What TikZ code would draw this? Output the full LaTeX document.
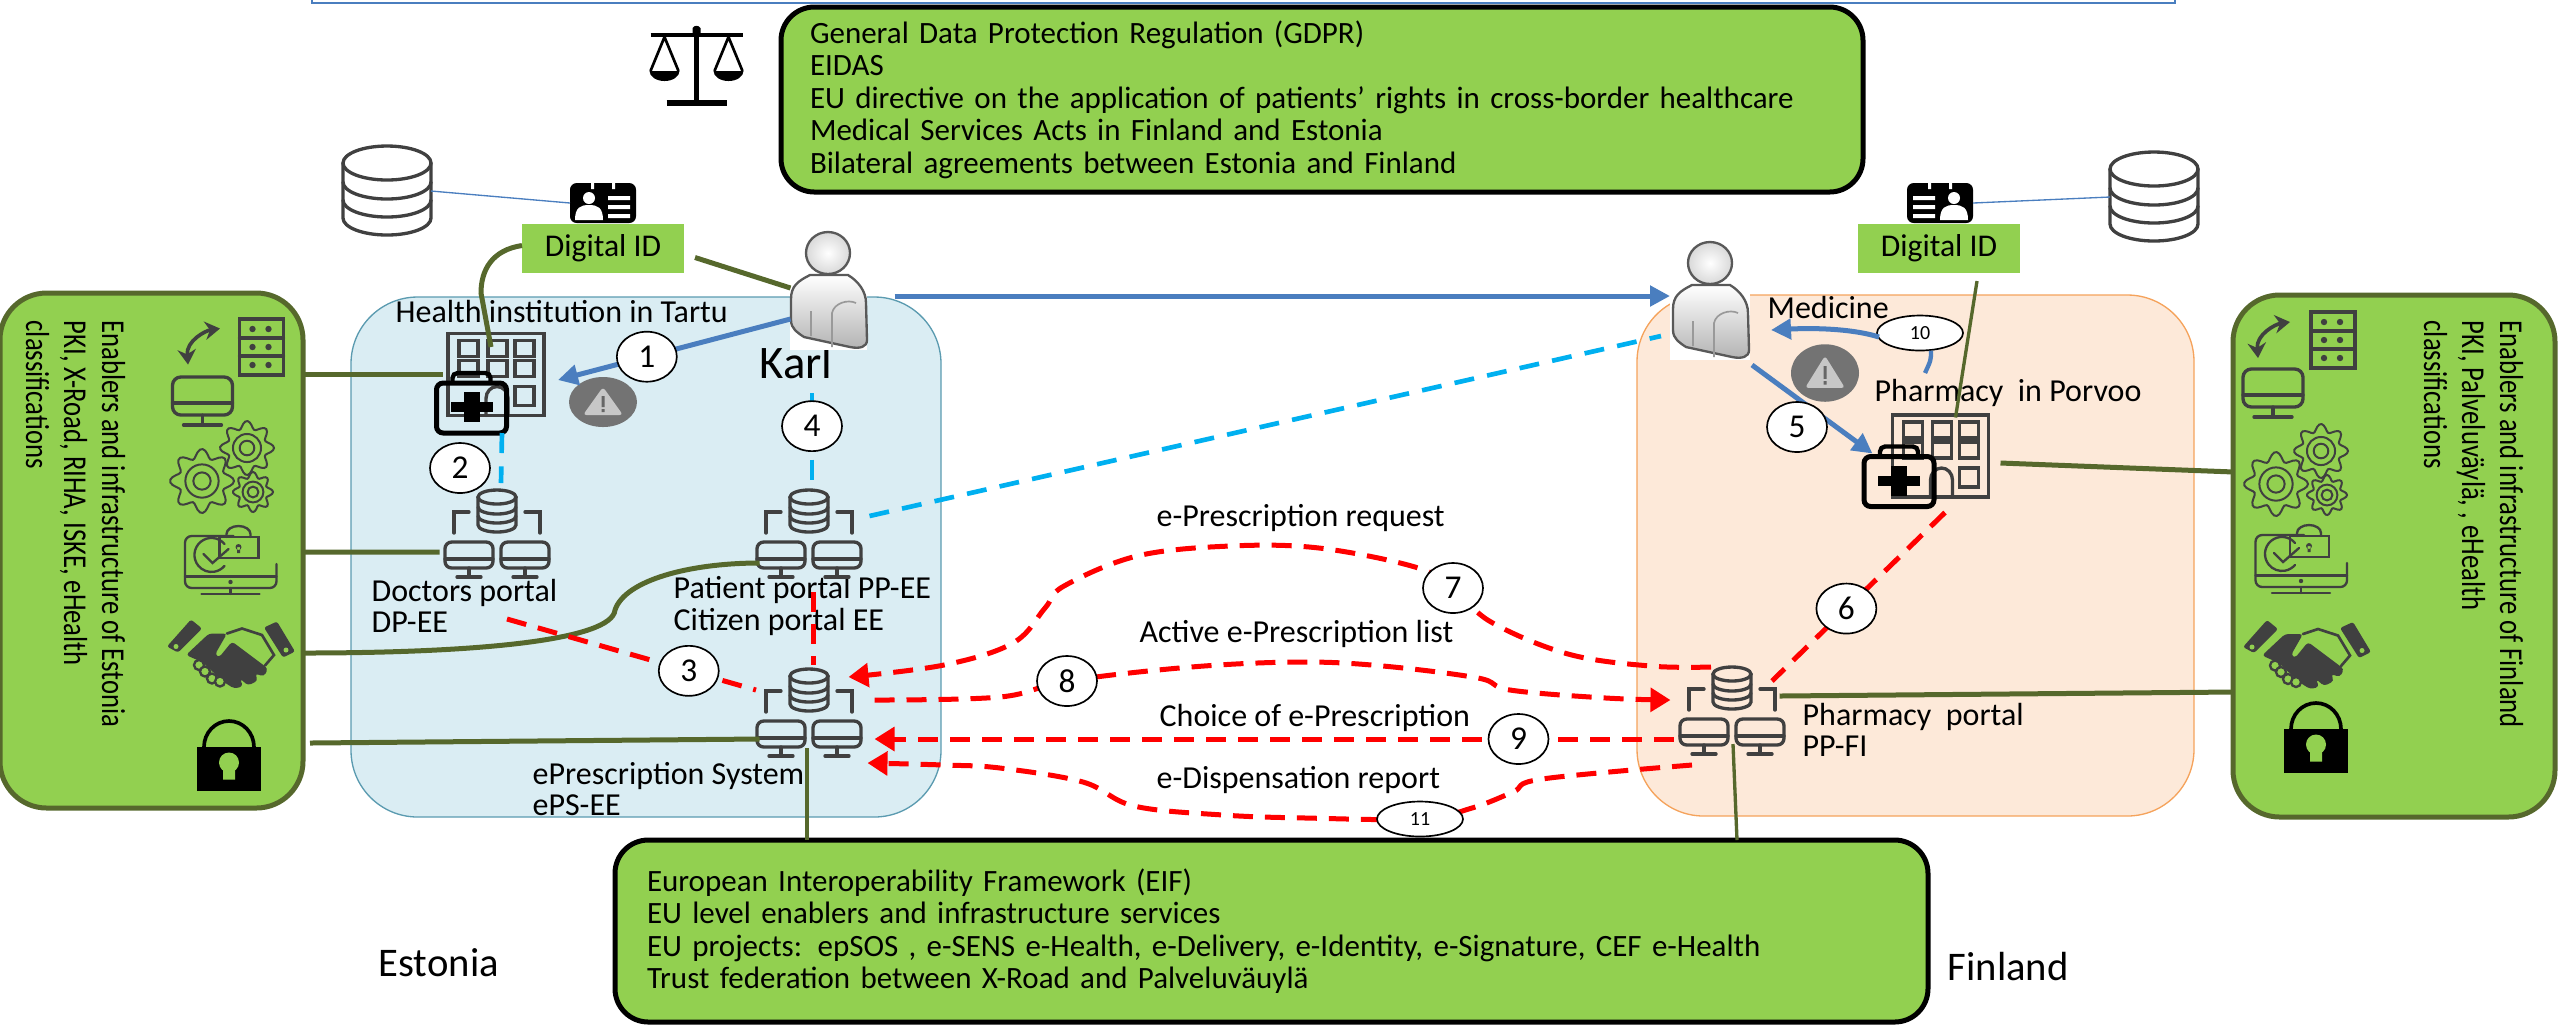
\documentclass[tikz,border=0pt]{standalone}
\usepackage{fontspec}
\setmainfont{Carlito}
\newfontfamily\sidefont[FakeStretch=0.8]{Carlito}
\usetikzlibrary{arrows.meta}
\usetikzlibrary{shapes}
\usetikzlibrary{calc}
\definecolor{boxgreen}{HTML}{92D050}
\definecolor{linkolive}{HTML}{56682C}
\definecolor{flowblue}{HTML}{4A7EBF}
\definecolor{flowcyan}{HTML}{00B0F0}
\definecolor{eeregion}{HTML}{DAEDF3}
\definecolor{eeedge}{HTML}{5B9BB0}
\definecolor{firegion}{HTML}{FDE9D9}
\definecolor{fiedge}{HTML}{F5A35C}
\colorlet{iconink}{black!75}
\tikzset{pxp/.style={
  x=0.3pt,
  y=-0.3pt
}}
\tikzset{sized/.style 2 args={
  minimum width=#1*0.3pt,
  minimum height=#2*0.3pt,
  inner sep=0pt,
  outer sep=0pt
}}
\tikzset{iconbox/.style={sized={#1},shape=rectangle}}
\tikzset{regn/.style={draw,thin,rounded corners=20pt,shape=rectangle}}
\tikzset{sideb/.style={draw=linkolive,fill=boxgreen,line width=1.5pt,rounded corners=14pt,shape=rectangle}}
\tikzset{lawb/.style={draw=black,fill=boxgreen,line width=1.5pt,rounded corners=10pt,shape=rectangle,align=left,
  font=\fontsize{9.3}{9.75}\selectfont}}
\tikzset{idb/.style={fill=boxgreen,sized={162}{49},font=\fontsize{9.5}{9.75}\selectfont}}
\tikzset{txt/.style={anchor=west,inner sep=0pt,align=left,font=\fontsize{9.6}{9.4}\selectfont}}
\tikzset{sidetxt/.style={rotate=-90,anchor=north west,inner sep=0pt,align=left,
  font=\sidefont\fontsize{10}{11.4}\selectfont}}
\tikzset{numc/.style={draw=black,solid,line width=0.5pt,fill=white,shape=ellipse,sized={60}{50},font=\fontsize{10}{12}\selectfont}}
\tikzset{numo/.style={draw=black,solid,line width=0.5pt,fill=white,shape=ellipse,sized={86}{35},font=\fontsize{6}{7}\selectfont}}
\tikzset{olink/.style={draw=linkolive,line width=1.5pt}}
\tikzset{othin/.style={draw=linkolive,line width=1pt}}
\tikzset{bluef/.style={draw=flowblue,line width=1.5pt,-{Triangle[length=6pt,width=6pt]}}}
\tikzset{cyanf/.style={draw=flowcyan,line width=1.4pt,dash pattern=on 6pt off 4pt}}
\tikzset{redf/.style={draw=red,line width=1.5pt,dash pattern=on 6pt off 3.6pt}}
\tikzset{redh/.style={redf,-{Triangle[length=6pt,width=7pt]}}}
\tikzset{ink/.style={draw=iconink,line width=1pt,line cap=round}}
\newcommand{\gearring}[3]{
  \draw[ink,line width=0.6pt] plot[smooth cycle,samples=73,domain=0:355]
    ({#1+#3*(0.86+0.14*cos(8*\x))*cos(\x)},{#2+#3*(0.86+0.14*cos(8*\x))*sin(\x)});
  \draw[ink,line width=0.6pt] (#1,#2) circle[radius=#3*0.52] (#1,#2) circle[radius=#3*0.27];
}
\tikzset{
  dbico/.pic={
    \draw[ink] (0,-28) ellipse[x radius=44,y radius=17];
    \draw[ink] (-44,-28) -- (-44,27) arc[start angle=180,end angle=0,x radius=44,y radius=17] -- (44,-28);
    \draw[ink] (-44,-9) arc[start angle=180,end angle=0,x radius=44,y radius=17];
    \draw[ink] (-44,9) arc[start angle=180,end angle=0,x radius=44,y radius=17];
  },
  portalico/.pic={
    \draw[ink] (0,-37) ellipse[x radius=19,y radius=7];
    \draw[ink] (-19,-37) -- (-19,-9) arc[start angle=180,end angle=0,x radius=19,y radius=7] -- (19,-37);
    \draw[ink] (-19,-27) arc[start angle=180,end angle=0,x radius=19,y radius=7];
    \draw[ink] (-19,-18) arc[start angle=180,end angle=0,x radius=19,y radius=7];
    \draw[ink] (-43,-1) -- (-43,-22) -- (-28,-22);
    \draw[ink] (43,-1) -- (43,-22) -- (28,-22);
    \foreach \mx in {-28,28} {
      \draw[ink,rounded corners=2pt] (\mx-24,8) rectangle (\mx+24,34);
      \draw[ink] (\mx-24,25) -- (\mx+24,25) (\mx,34) -- (\mx,43) (\mx-12,43) -- (\mx+12,43);
    }
  },
  bldgico/.pic={
    \draw[ink] (-48,-41) rectangle (48,41);
    \foreach \wx in {-37,-8,19} {
      \draw[ink] (\wx,-34) rectangle (\wx+19,-18);
      \draw[ink] (\wx,-14) rectangle (\wx+19,2);
    }
    \draw[ink] (19,12) rectangle (38,31);
    \draw[ink] (-10,41) -- (-10,24) arc[start angle=180,end angle=360,x radius=11,y radius=12] -- (12,41);
  },
  kitico/.pic={
    \draw[black,line width=1.5pt,rounded corners=2pt] (-35,-20) rectangle (35,30);
    \draw[black,line width=1.3pt,rounded corners=1.5pt] (-19,-20) -- (-19,-30) -- (19,-30) -- (19,-20);
    \fill[black] (-8,-11) rectangle (8,19);
    \fill[black] (-21,-1) rectangle (21,9);
  },
  warnico/.pic={
    \fill[black!55] (0,0) ellipse[x radius=34,y radius=25];
    \fill[black!22,rounded corners=1pt] (0,-15) -- (20,13) -- (-20,13) -- cycle;
    \fill[black!60] (-1.5,-6) rectangle (1.5,5) (-1.5,7) rectangle (1.5,10);
  },
  cardico/.pic={
    \fill[black,rounded corners=2pt] (-33,-20) rectangle (33,20);
    \fill[white] (-12,-20) rectangle (-9,-14) (9,-20) rectangle (12,-14);
    \fill[white] (-14,-5) ellipse[x radius=6,y radius=6];
    \fill[white] (-28,17) .. controls (-28,4) and (-22,2) .. (-14,2) .. controls (-6,2) and (0,4) .. (0,17) -- cycle;
    \fill[white] (5,-7) rectangle (27,-3) (5,2) rectangle (27,6) (5,11) rectangle (27,15);
  },
  lawico/.pic={
    \fill[black] (-4,-39) .. controls (-2,-42) and (2,-42) .. (4,-39) -- (4,-34) -- (-4,-34) -- cycle;
    \draw[black,line width=1.3pt] (-46,-32) -- (46,-32);
    \draw[black,line width=1.3pt] (0,-36) -- (0,34);
    \draw[black,line width=1.6pt] (-30,36) -- (30,36);
    \foreach \sx in {-32,32} {
      \draw[black,line width=0.8pt] (\sx,-30) -- (\sx-14,4) (\sx,-30) -- (\sx+14,4);
      \fill[black] (\sx-15,4) arc[start angle=180,end angle=0,x radius=15,y radius=10] -- cycle;
    }
  },
  personico/.pic={
    \draw[black!65,top color=white,bottom color=black!30,line width=0.7pt]
      (-18,-16) .. controls (-30,-10) and (-37,-5) .. (-37,8) -- (-37,29)
      .. controls (-37,38) and (-30,42) .. (-24,46) -- (22,56)
      .. controls (32,58) and (39,56) .. (39,49) -- (38,12)
      .. controls (38,0) and (30,-10) .. (20,-16) -- cycle;
    \draw[black!40,line width=0.5pt] (4,56) -- (4,22) .. controls (6,12) and (20,8) .. (28,12) (-17,20) -- (-17,45);
    \draw[black!65,inner color=white,outer color=black!15,line width=0.7pt] (0,-38) ellipse[x radius=22,y radius=21];
  },
  rackico/.pic={
    \draw[ink] (-22,-28) rectangle (22,28);
    \draw[ink] (-22,-9) -- (22,-9) (-22,9) -- (22,9);
    \foreach \ry in {-18,0,18} {
      \fill[iconink] (-9,\ry) circle[radius=3.2] (7,\ry) circle[radius=3.2];
    }
  },
  swapico/.pic={
    \draw[iconink,line width=1.1pt,{Stealth[length=4.5pt,width=5.5pt]}-{Stealth[length=4.5pt,width=5.5pt]}]
      (18,-18) .. controls (4,-16) and (-16,-6) .. (-14,18);
  },
  screenico/.pic={
    \draw[ink,rounded corners=2.5pt] (-30,-24) rectangle (30,14);
    \draw[ink] (-30,2) -- (30,2) (0,14) -- (0,24) (-19,24) -- (19,24);
  },
  gearsico/.pic={
    \gearring{-20}{13}{32}
    \gearring{25}{-20}{27}
    \gearring{31}{24}{20}
  },
  secico/.pic={
    \draw[ink,line width=0.7pt,rounded corners=2pt] (3,-24) -- (-45.5,-24) -- (-45.5,28) -- (46,28) -- (46,4);
    \draw[ink,line width=0.7pt] (-45.5,16.5) -- (46,16.5) (0,28) -- (0,34) (-29,34) -- (29,34);
    \fill[iconink] (0,22) circle[radius=2.2];
    \draw[ink,line width=0.7pt] (-6,-16) arc[start angle=-40,end angle=-320,radius=17];
    \draw[ink,line width=0.7pt] (-27,-6) -- (-18,3) -- (-2,-11);
    \draw[ink,line width=0.7pt] (-11,-23) rectangle (28,-2);
    \draw[ink,line width=0.7pt] (-4,-23) -- (-4,-26) arc[start angle=180,end angle=360,x radius=12,y radius=8] -- (20,-23);
    \fill[iconink] (8,-13) circle[radius=3] (6.5,-13) rectangle (9.5,-7);
  },
  handico/.pic={
    \fill[iconink,rounded corners=0.7pt] (-64,-6) -- (-40,-33) -- (-29,-24) -- (-53,0) -- cycle;
    \fill[iconink,rounded corners=0.7pt] (33,-25) -- (46,-31) -- (64,-1) -- (52,5) -- cycle;
    \fill[boxgreen] (-55,-6) circle[radius=2.5] (55,-2.5) circle[radius=2.5];
    \fill[iconink,rounded corners=1pt] (-45,2.5) -- (-22,-19) -- (-4,-19) -- (-16,2) -- (-12,5) -- (1,-11)
      -- (37,16) -- (33,24) -- (24,21) -- (27,28) -- (17,33) -- (9,26) -- (12,34) -- (3,36)
      -- (-8,29) -- (-28,10) -- cycle;
    \draw[ink,line width=0.8pt] (-4,-19) -- (11,-24) -- (31,-17.5) -- (43,2.5) -- (34,13);
    \foreach \fx/\fy in {-32/12.5,-26/19,-19/26,-11/29} {
      \draw[iconink,line width=0.7pt,fill=boxgreen] (\fx,\fy) circle[radius=5];
    }
  },
  lockico/.pic={
    \fill[black] (-32,-8.5) rectangle (32,35.5);
    \draw[black,line width=1.1pt] (-25,-8.5) arc[start angle=180,end angle=360,x radius=25,y radius=26];
    \fill[boxgreen] (0,7) circle[radius=10] (-6,7) -- (6,7) -- (6,24) -- (-6,24) -- cycle;
  }
}

\begin{document}
\begin{tikzpicture}[pxp]
    \useasboundingbox (0,0) rectangle (2560,1024);
    \draw[flowblue,line width=0.7pt] (312,0) -- (312,3) -- (2175,3) -- (2175,0);

    % Country regions
    \node[regn,draw=eeedge,fill=eeregion,sized={590}{520}] (eeregion) at (646,557) {};
    \node[regn,draw=fiedge,fill=firegion,sized={557}{521}] (firegion) at (1915.5,555.5) {};

    % Side boxes
    \node[sideb,sized={303}{515}] (eebox) at (151.5,550.5) {};
    \node[sideb,sized={322}{522}] (fibox) at (2394,556) {};
    \node[sidetxt] (eeboxtxt) at (126,320) {Enablers and infrastructure of Estonia\\PKI, X-Road, RIHA, ISKE, eHealth\\classifications};
    \node[sidetxt] (fiboxtxt) at (2524,320) {Enablers and infrastructure of Finland\\PKI, Palveluväylä, , eHealth\\classifications};

    % Legal and EU boxes
    \node[lawb,sized={1082}{185},text width=1024*0.3pt,inner xsep=29*0.3pt] (lawbox) at (1322,99.5)
      {General Data Protection Regulation (GDPR)\\EIDAS\\EU directive on the application of patients’ rights in cross-border healthcare\\Medical Services Acts in Finland and Estonia\\Bilateral agreements between Estonia and Finland};
    \node[lawb,sized={1313}{182},text width=1249*0.3pt,inner xsep=32*0.3pt] (eubox) at (1271.5,931)
      {European Interoperability Framework (EIF)\\EU level enablers and infrastructure services\\EU projects: epSOS , e-SENS e-Health, e-Delivery, e-Identity, e-Signature, CEF e-Health\\Trust federation between X-Road and Palveluväuylä};
    \node[iconbox={93}{78}] (lawicon) at (696.5,67) {};
    \pic at (lawicon) {lawico};

    % Texts
    \node[txt] (hosptxt) at (395,311) {Health institution in Tartu};
    \node[txt,font=\fontsize{14}{16}\selectfont] (karlname) at (759,362) {Karl};
    \node[txt] (doctxt) at (371,606) {Doctors portal\\DP-EE};
    \node[txt] (pattxt) at (673,606) {Patient portal PP-EE\\Citizen portal EE};
    \node[txt] (epstxt) at (532,789) {ePrescription System\\ePS-EE};
    \node[txt] (medtxt) at (1767,307) {Medicine};
    \node[txt] (phtxt) at (1874,393) {Pharmacy\ \ in Porvoo};
    \node[txt] (pptxt) at (1802,730) {Pharmacy\ \ portal\\PP-FI};
    \node[txt] (reqtxt) at (1156,518) {e-Prescription request};
    \node[txt] (listtxt) at (1139,634) {Active e-Prescription list};
    \node[txt] (choicetxt) at (1159,718) {Choice of e-Prescription};
    \node[txt] (reptxt) at (1156,780) {e-Dispensation report};
    \node[txt,font=\fontsize{12.2}{14}\selectfont] (eename) at (378,963) {Estonia};
    \node[txt,font=\fontsize{12.2}{14}\selectfont] (finame) at (1947,967) {Finland};

    % Digital ID and databases
    \node[idb] (idee) at (603,248.5) {Digital ID};
    \node[idb] (idfi) at (1939,248.5) {Digital ID};
    \node[iconbox={88}{88}] (dbee) at (387,191) {};
    \node[iconbox={88}{88}] (dbfi) at (2154,197) {};
    \node[iconbox={66}{40}] (cardee) at (603,203) {};
    \node[iconbox={66}{40}] (cardfi) at (1940,203) {};
    \pic at (dbee) {dbico};
    \pic at (dbfi) {dbico};
    \pic at (cardee) {cardico};
    \pic[xscale=-1] at (cardfi) {cardico};
    \draw[flowblue,thin] (dbee.east) -- (cardee.west);
    \draw[flowblue,thin] (cardfi.east) -- (dbfi.west);

    % Persons
    \node[iconbox={77}{118},fill=white] (karl) at (828,291) {};
    \node[iconbox={80}{118},fill=white] (patfi) at (1710,301) {};
    \pic at (karl) {personico};
    \pic at (patfi) {personico};

    % Buildings and portals
    \node[iconbox={96}{83}] (hosptartu) at (496,374.5) {};
    \node[iconbox={71}{60}] (kittartu) at (471.5,403) {};
    \node[iconbox={96}{83}] (hospporvoo) at (1940.5,456) {};
    \node[iconbox={71}{60}] (kitporvoo) at (1899,476.5) {};
    \foreach \bn/\kn in {hosptartu/kittartu,hospporvoo/kitporvoo} {
      \pic at (\bn) {bldgico};
      \pic at (\kn) {kitico};
    }
    \node[iconbox={105}{88}] (docportal) at (497,534) {};
    \node[iconbox={105}{88}] (patportal) at (809,534) {};
    \node[iconbox={105}{90}] (epsportal) at (809,713) {};
    \node[iconbox={105}{90}] (ppportal) at (1732,711) {};
    \foreach \pn in {docportal,patportal,epsportal,ppportal} {
      \pic at (\pn) {portalico};
    }
    \node[iconbox={68}{50}] (warnee) at (603,402) {};
    \node[iconbox={68}{58}] (warnfi) at (1825,373) {};
    \pic at (warnee) {warnico};
    \pic[yscale=1.15] at (warnfi) {warnico};

    % Icons of the side boxes
    \foreach \sb/\rx/\ry/\wx/\wy/\sx/\sy/\gx/\gy/\mx/\my/\hx/\hy/\lx/\ly in
      {ee/261.5/347/202/346.5/202.5/401/222/468/230.5/560/231/652.5/229/755.5,
       fi/2333/340/2272/340/2273/393/2296/471/2301/559/2307/653/2316/737.5} {
      \node[iconbox={45}{56}] (rack\sb) at (\rx,\ry) {};
      \node[iconbox={40}{36}] (swap\sb) at (\wx,\wy) {};
      \node[iconbox={60}{48}] (screen\sb) at (\sx,\sy) {};
      \node[iconbox={103}{81}] (gears\sb) at (\gx,\gy) {};
      \node[iconbox={95}{70}] (sec\sb) at (\mx,\my) {};
      \node[iconbox={128}{69}] (hand\sb) at (\hx,\hy) {};
      \node[iconbox={64}{71}] (lock\sb) at (\lx,\ly) {};
      \pic at (rack\sb) {rackico};
      \pic at (swap\sb) {swapico};
      \pic at (screen\sb) {screenico};
      \pic at (gears\sb) {gearsico};
      \pic at (sec\sb) {secico};
      \pic at (hand\sb) {handico};
      \pic at (lock\sb) {lockico};
    }

    % Olive links
    \draw[olink] ($(idee.west)+(0,-3)$) .. controls (492,250) and (481,270) .. (481,293)
      -- ($(hosptartu.north)+(-5,14)$);
    \draw[olink] ($(idee.east)+(11,9)$) -- ($(karl.west)+(1,-3)$);
    \draw[olink] (eebox.east |- hosptartu.west) -- ($(hosptartu.west)+(-5,0)$);
    \draw[olink] ($(eebox.east)+(0,1.5)$) -- ($(docportal.west)+(-5,18)$);
    \draw[olink] ($(eebox.east)+(0,102.5)$) .. controls (480,653) and (612,640) .. (615,610)
      .. controls (625,580) and (690,563) .. ($(patportal.west)+(3,29)$);
    \draw[olink] ($(eebox.east)+(7,192.5)$) -- ($(epsportal.west)+(3,26)$);
    \draw[othin] ($(epsportal.south)+(-2,-10)$) -- (eubox.north -| 807,0);
    \draw[othin] ($(idfi.south)+(38,8)$) -- ($(hospporvoo.north)+(15,3)$);
    \draw[olink] ($(hospporvoo.east)+(12,7)$) -- ($(fibox.west)+(1,-84)$);
    \draw[olink] ($(ppportal.east)+(-5,-15)$) -- ($(fibox.west)+(1,136)$);
    \draw[othin] ($(ppportal.south)+(1,-12)$) -- (eubox.north -| 1737,0);

    % Blue flows
    \draw[bluef] ($(karl.west)+(1,28)$) -- node[numc,pos=0.618] (step1) {1} ($(hosptartu.east)+(14,5.5)$);
    \draw[bluef] ($(karl.east)+(28,5)$) -- ($(patfi.west)+(0,-5)$);
    \draw[bluef] ($(patfi.south east)+(2,5)$) -- ($(kitporvoo.north west)+(9,7)$);
    \node[numc] (step5) at (1797,427) {5};
    \node[numo] (step10) at (1920,333) {10};
    \draw[bluef] ($(step10.west)+(2,4)$) .. controls (1850,328) and (1810,328) .. ($(patfi.east)+(21,29)$);
    \draw[draw=flowblue,line width=1.3pt] ($(step10.south)+(11,0)$) .. controls (1931,360) .. (1925,373);

    % Cyan flows
    \draw[cyanf] ($(kittartu.south east)+(-5,0)$) -- ($(docportal.north)+(4,-7)$);
    \node[numc] (step2) at (460,468) {2};
    \draw[cyanf] ($(karl.south)+(-16,43)$) -- node[numc,pos=0.36] (step4) {4} ($(patportal.north)+(3,-5)$);
    \draw[cyanf] ($(patportal.east)+(8,-18)$) -- ($(patfi.west)+(-9,35)$);

    % Red flows
    \draw[redf] ($(docportal.south)+(10,41)$) -- node[numc,pos=0.73] (step3) {3} ($(epsportal.north)+(-53,22)$);
    \draw[redf] ($(patportal.south)+(4,14)$) -- ($(epsportal.north)+(4,-3)$);
    \draw[redf] ($(hospporvoo.south)+(4.5,15)$) -- node[numc,pos=0.57] (step6) {6} ($(ppportal.north)+(40,15)$);
    \draw[redh] plot[smooth,tension=0.6] coordinates {($(ppportal.north)+(-21,1)$)
      (1650,666) (1568,654) (1491,622) (1453,588) (1415,567) (1319,548) (1230,546) (1137,556)
      (1064,586) (1045,608) (1013,643) (944,665) ($(epsportal.east)+(-13,-36)$)};
    \node[numc] (step7) at (1453,588) {7};
    \draw[redh] plot[smooth,tension=0.6] coordinates {($(epsportal.east)+(13,-13)$)
      (1000,697) (1067,681) (1191,667) (1300,662) (1383,666) (1478,678) (1510,690) (1606,698)
      ($(ppportal.west)+(-9,-11)$)};
    \node[numc] (step8) at (1067,681) {8};
    \draw[redh] ($(ppportal.west)+(-6,28)$) -- node[numc,pos=0.194] (step9) {9} ($(epsportal.east)+(13,26)$);
    \draw[redh] plot[smooth,tension=0.6] coordinates {($(ppportal.south)+(-40,9)$)
      (1542,779) (1513,792) (1472,808) (1420,819) (1306,818) (1223,815) (1134,806) (1083,782)
      (1000,768) (944,765) ($(epsportal.east)+(6,50)$)};
    \node[numo] (step11) at (1420,819) {11};

\end{tikzpicture}
\end{document}
